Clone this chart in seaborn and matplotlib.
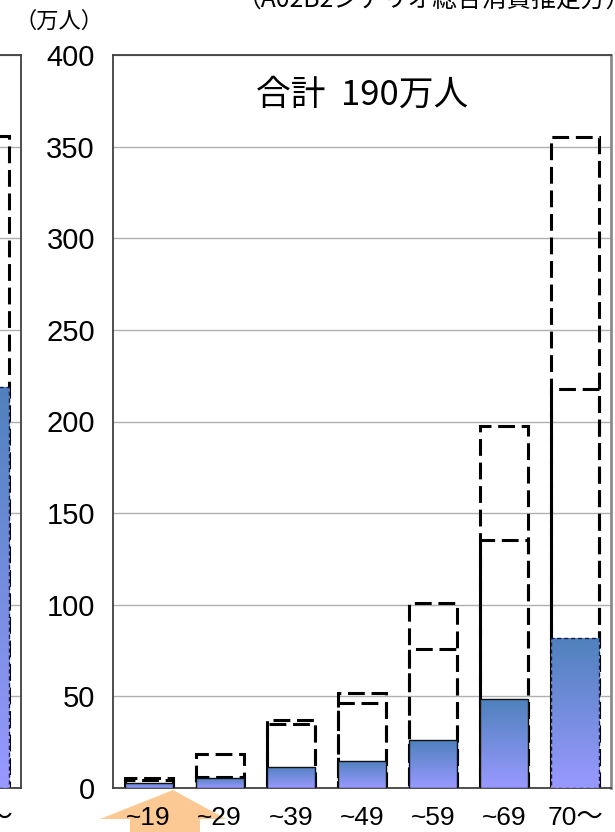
import numpy as np
import pandas as pd
import matplotlib
matplotlib.use("Agg")
import matplotlib.pyplot as plt
import seaborn as sns
from matplotlib.patches import Polygon
from matplotlib.colors import LinearSegmentedColormap
from matplotlib import font_manager

# ---------------- data ----------------
categories = ["~19", "~29", "~39", "~49", "~59", "~69", "70〜"]
actual_values = [3, 5.5, 11.5, 15, 26, 48.5, 82]
mid_values = [4.5, 6, 35, 46.5, 76, 135.5, 218]
high_values = [5.5, 18.5, 37, 52, 101, 197.5, 355]
prev_actual_values = [np.nan, np.nan, np.nan, np.nan, np.nan, np.nan, 219]
prev_high_values = [np.nan, np.nan, np.nan, np.nan, np.nan, np.nan, 356]
y_ticks = [0, 50, 100, 150, 200, 250, 300, 350, 400]
total_label = "合計  190万人"
unit_label = "（万人）"
title_label = "（A02B2シナリオ総合消費推定方）"

# ---------------- style ----------------
sns.set_theme(style="white")
avail = {f.name for f in font_manager.fontManager.ttflist}
base = "Liberation Sans"
for cand in ["Liberation Sans Narrow", "DejaVu Sans Condensed"]:
    if cand in avail:
        base = cand
        break
plt.rcParams["font.family"] = [base, "Noto Sans CJK JP", "DejaVu Sans"]
cjk = ["Noto Sans CJK JP", "DejaVu Sans"]

W, H = 615, 832
fig = plt.figure(figsize=(W / 100, H / 100), dpi=100)
fig.patch.set_facecolor("white")

ax_left_px, ax_right_px, ax_top_px, ax_bot_px = 113, 611, 55, 788
ax_w = ax_right_px - ax_left_px
ax = fig.add_axes([ax_left_px / W, 1 - ax_bot_px / H, ax_w / W, (ax_bot_px - ax_top_px) / H])
# partial previous panel on the left (cut off by the image edge)
prev_right = 21
axp = fig.add_axes([(prev_right - ax_w) / W, 1 - ax_bot_px / H, ax_w / W, (ax_bot_px - ax_top_px) / H])

cmap = LinearSegmentedColormap.from_list("g", ["#9999FF", "#4F81BD"])
grad = np.linspace(0, 1, 256).reshape(-1, 1)
dash = (0, (5.5, 2.2))
bw = 0.675


def draw_panel(a, high, mid, act):
    df = pd.DataFrame({"cat": categories, "high": high, "mid": mid, "act": act})
    for col in ["high", "mid"]:
        if df[col].notna().any():
            n0 = len(a.patches)
            sns.barplot(data=df, x="cat", y=col, order=categories, ax=a, width=bw,
                        color="white", errorbar=None, zorder=2)
            for p in a.patches[n0:]:
                p.set_facecolor("none")
                p.set_edgecolor("black")
                p.set_linewidth(2.2)
                p.set_linestyle(dash)
                p.set_zorder(2)
    n0 = len(a.patches)
    sns.barplot(data=df, x="cat", y="act", order=categories, ax=a, width=bw,
                color="#4F81BD", errorbar=None, zorder=3)
    bars = [p for p in a.patches[n0:] if np.isfinite(p.get_height()) and p.get_height() > 0]
    for p in bars:
        p.set_facecolor("none")
        p.set_edgecolor("#111111")
        p.set_linewidth(1.0)
        p.set_zorder(4)
        x0, y0, w, h = p.get_x(), p.get_y(), p.get_width(), p.get_height()
        im = a.imshow(grad, extent=[x0, x0 + w, y0, y0 + h], origin="lower",
                      cmap=cmap, aspect="auto", zorder=3.5, interpolation="bilinear")
        im.set_clip_path(p)
    if bars:
        bars[-1].set_linestyle((0, (3, 2)))
        bars[-1].set_edgecolor("#1a1a50")


draw_panel(ax, high_values, mid_values, actual_values)
draw_panel(axp, prev_high_values, [np.nan] * 7, prev_actual_values)

for a in (ax, axp):
    a.set_xlim(-0.5, len(categories) - 0.5)
    a.set_ylim(0, 400)
    a.set_yticks(y_ticks)
    a.set_xlabel("")
    a.set_ylabel("")
    a.set_axisbelow(True)
    a.yaxis.grid(True, color="#b0b0b0", linewidth=1.0)
    a.patch.set_alpha(0)
    for s in a.spines.values():
        s.set_visible(True)
        s.set_color("#404040")
        s.set_linewidth(1.3)
    a.spines["right"].set_color("#8c8c8c")
    a.spines["right"].set_linewidth(2)
    a.tick_params(axis="y", direction="in", length=5, width=1.2, color="#404040",
                  labelsize=21, pad=13, labelcolor="black")
    a.tick_params(axis="x", length=0, labelsize=19, pad=13, labelcolor="black")

axp.set_yticklabels([])
axp.spines["right"].set_color("#404040")
axp.spines["right"].set_linewidth(1.3)

ax.text(0.5, 0.945, total_label, transform=ax.transAxes, ha="center", va="center",
        fontsize=25, family=cjk, color="black")

fig.text(14 / W, 1 - 21 / H, unit_label, ha="left", va="center", fontsize=16,
         family=cjk, color="black")
fig.text(237 / W, 1 - 7 / H, title_label, ha="left", va="baseline", fontsize=17.8,
         family=cjk, color="black")

# orange arrow head (annotation shape under the first tick labels)
arrow_pts = [(173, 790), (226, 819), (200, 819), (200, 840), (130, 840), (130, 819), (100, 819)]
arrow = Polygon([(x / W, 1 - y / H) for x, y in arrow_pts], closed=True,
                transform=fig.transFigure, facecolor="#FCC994", edgecolor="none", zorder=-1)
fig.patches.append(arrow)

fig.savefig("out.png", dpi=100, facecolor="white")
